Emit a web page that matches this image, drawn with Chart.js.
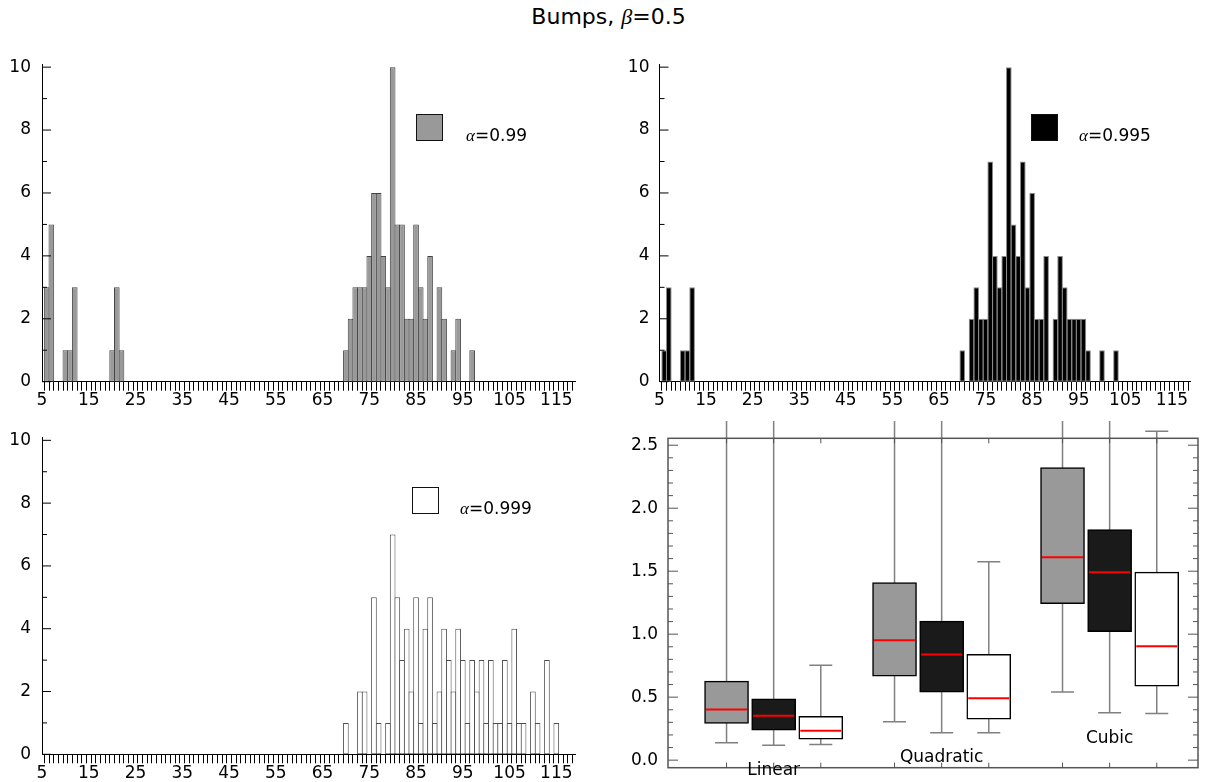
<!DOCTYPE html>
<html>
<head>
<meta charset="utf-8">
<script src="https://cdn.jsdelivr.net/npm/chart.js@4.4.1/dist/chart.umd.min.js"></script>
<style>
html, body { margin: 0; padding: 0; background: #fff; overflow: hidden; width: 1205px; height: 782px; }
canvas { position: absolute; }
.title { position: absolute; left: 6px; width: 1205px; top: 4px; text-align: center; font: 22px "DejaVu Sans", sans-serif; line-height: 26px; }
.title i, .legend i { font-family: "Liberation Serif", serif; }
.legend { position: absolute; font: 17px "DejaVu Sans", sans-serif; line-height: 17px; white-space: nowrap; }
.legend .sw { position: absolute; left: 0; top: 0; width: 25px; height: 25px; border: 1.5px solid #111; }
.legend .tx { position: absolute; top: 13px; }
</style>
</head>
<body>
<div class="title">Bumps, <i>β</i>=0.5</div>

<canvas id="h099" width="600" height="375" style="left:0px;top:40px"></canvas>
<canvas id="h0995" width="588" height="375" style="left:617px;top:40px"></canvas>
<canvas id="h0999" width="600" height="362" style="left:0px;top:420px"></canvas>
<canvas id="boxes" width="605" height="361" style="left:600px;top:421px"></canvas>

<div class="legend" style="left:416px;top:114px"><div class="sw" style="background:#999"></div><div class="tx" style="left:50px"><i>α</i>=0.99</div></div>
<div class="legend" style="left:1031px;top:114px"><div class="sw" style="background:#000"></div><div class="tx" style="left:48px"><i>α</i>=0.995</div></div>
<div class="legend" style="left:412px;top:487px"><div class="sw" style="background:#fff"></div><div class="tx" style="left:48px"><i>α</i>=0.999</div></div>

<script>
// histogramme: Klassenmitte (Breite 1) und Anzahl
const bins099 = [6, 7, 10, 11, 12, 20, 21, 22,
  70, 71, 72, 73, 74, 75, 76, 77, 78, 79, 80, 81, 82, 83, 84, 85, 86, 87, 88, 89, 90, 91, 92, 93, 94, 95, 96, 97];
const counts099 = [3, 5, 1, 1, 3, 1, 3, 1,
  1, 2, 3, 3, 3, 4, 6, 6, 4, 3, 10, 5, 5, 2, 2, 5, 3, 2, 4, 0, 3, 2, 0, 1, 2, 0, 0, 1];

const bins0995 = [6, 7, 10, 11, 12,
  70, 71, 72, 73, 74, 75, 76, 77, 78, 79, 80, 81, 82, 83, 84, 85, 86, 87, 88, 89,
  90, 91, 92, 93, 94, 95, 96, 97, 98, 99, 100, 101, 102, 103];
const counts0995 = [1, 3, 1, 1, 3,
  1, 0, 2, 3, 2, 2, 7, 4, 3, 4, 10, 5, 4, 7, 3, 6, 2, 2, 4, 0,
  2, 4, 3, 2, 2, 2, 2, 1, 0, 0, 1, 0, 0, 1];

const bins0999 = [70, 71, 72, 73, 74, 75, 76, 77, 78, 79, 80, 81, 82, 83, 84, 85, 86, 87, 88, 89,
  90, 91, 92, 93, 94, 95, 96, 97, 98, 99, 100, 101, 102, 103, 104, 105, 106, 107, 108, 109,
  110, 111, 112, 113, 114, 115];
const counts0999 = [1, 0, 0, 2, 2, 0, 5, 1, 0, 1, 7, 5, 3, 4, 2, 5, 1, 4, 5, 1,
  2, 4, 3, 2, 4, 3, 1, 3, 2, 3, 1, 3, 1, 1, 3, 1, 4, 1, 1, 0,
  2, 1, 0, 3, 0, 1];

const xTickLabels = [5, 15, 25, 35, 45, 55, 65, 75, 85, 95, 105, 115];
const yTickLabels = [0, 2, 4, 6, 8, 10];

// boxplot: Reihen = alpha 0.99 / 0.995 / 0.999, Spalten = Linear / Quadratic / Cubic
const groups = ['Linear', 'Quadratic', 'Cubic'];
const groupLabelY = [-0.08, 0.02, 0.175];
const whiskLo = [[0.138, 0.304, 0.540], [0.119, 0.217, 0.376], [0.124, 0.217, 0.370]];
const q1      = [[0.291, 0.667, 1.243], [0.238, 0.540, 1.019], [0.167, 0.325, 0.587]];
const median  = [[0.402, 0.952, 1.611], [0.352, 0.839, 1.492], [0.233, 0.492, 0.905]];
const q3      = [[0.627, 1.410, 2.323], [0.487, 1.103, 1.831], [0.347, 0.841, 1.492]];
const whiskHi = [[3.2, 3.4, 3.6], [3.0, 3.3, 3.5], [0.754, 1.574, 2.611]];
const boxTickLabels = [0.0, 0.5, 1.0, 1.5, 2.0, 2.5];

const boxFill = ['#999999', '#1a1a1a', '#ffffff'];

Chart.defaults.font.family = '"DejaVu Sans", sans-serif';
Chart.defaults.font.size = 16;
Chart.defaults.color = '#000';
Chart.defaults.animation = false;
Chart.defaults.responsive = false;
Chart.defaults.plugins.legend.display = false;
Chart.defaults.plugins.tooltip.enabled = false;

// feste Achsengroesse, ohne Randzuschlag fuer Beschriftungen
const fixSize = (w, h) => s => {
  if (w !== null) s.width = w;
  if (h !== null) s.height = h;
  s.paddingTop = 0; s.paddingBottom = 0; s.paddingLeft = 0; s.paddingRight = 0;
};

// Ticks nach innen zeichnen (y-Achse links, optional rechts)
const innerTicks = {
  id: 'innerTicks',
  afterDraw(chart, args, opts) {
    const ctx = chart.ctx, a = chart.chartArea, ys = chart.scales.y;
    ctx.save();
    ctx.strokeStyle = opts.color;
    ctx.lineWidth = opts.width;
    ys.ticks.forEach(t => {
      const py = ys.getPixelForValue(t.value);
      const len = opts.isMajor(t.value) ? opts.major : opts.minor;
      ctx.beginPath();
      ctx.moveTo(a.left, py);
      ctx.lineTo(a.left + len, py);
      if (opts.mirror) {
        ctx.moveTo(a.right, py);
        ctx.lineTo(a.right - len, py);
      }
      ctx.stroke();
    });
    ctx.restore();
  }
};

function histogram(id, bins, counts, fill, edge, box) {
  const pts = [];
  bins.forEach((b, i) => { if (counts[i] > 0) pts.push({ x: b, y: counts[i] }); });
  return new Chart(document.getElementById(id), {
    type: 'bar',
    data: {
      datasets: [{
        data: pts,
        backgroundColor: fill,
        borderColor: edge,
        borderWidth: 1,
        borderSkipped: false,
        barPercentage: 1.21,   // Nachbarbalken teilen sich die Randlinie
        categoryPercentage: 1
      }]
    },
    options: {
      layout: { padding: box.pad, autoPadding: false },
      scales: {
        x: {
          type: 'linear', offset: false, min: 5, max: 119,
          afterFit: fixSize(null, box.xh),
          ticks: {
            stepSize: 1, autoSkip: false, maxRotation: 0, minRotation: 0, padding: 0,
            font: { size: 17 },
            callback: v => xTickLabels.includes(v) ? String(v) : ''
          },
          grid: { display: true, drawOnChartArea: false, drawTicks: true, tickLength: 9, color: '#000', lineWidth: 1 },
          border: { display: true, color: '#000', width: 1 }
        },
        y: {
          min: 0, max: 10.1,
          afterFit: fixSize(box.yw, null),
          ticks: {
            stepSize: 1, includeBounds: false, autoSkip: false, padding: box.ypad,
            font: { size: 17 },
            callback: v => yTickLabels.includes(v) ? String(v) : ''
          },
          grid: { display: false, drawTicks: false },
          border: { display: true, color: '#000', width: 1 }
        }
      },
      plugins: {
        innerTicks: { color: '#000', width: 1, major: 9, minor: 5, mirror: false, isMajor: v => yTickLabels.includes(v) }
      }
    },
    plugins: [innerTicks]
  });
}

histogram('h099', bins099, counts099, '#999999', '#444444',
  { pad: { left: 0, right: 25, top: 24, bottom: 0 }, xh: 33.3, yw: 42, ypad: 11 });
histogram('h0995', bins0995, counts0995, '#000000', '#8a8a8a',
  { pad: { left: 0, right: 14.5, top: 24, bottom: 0 }, xh: 33.3, yw: 42.5, ypad: 10 });
histogram('h0999', bins0999, counts0999, '#ffffff', '#4d4d4d',
  { pad: { left: 0, right: 25, top: 17.2, bottom: 0 }, xh: 27.7, yw: 42, ypad: 11 });

// Boxplot
const xMin = 0.371, xMax = 3.526, boxStep = 0.2805;
const boxPos = (g, s) => g + 1 + (s - 1) * boxStep;

const boxPlot = {
  id: 'boxPlot',
  beforeDatasetsDraw(chart) {
    const { ctx, scales: { x, y } } = chart;
    ctx.save();
    ctx.strokeStyle = '#808080';
    ctx.lineWidth = 1.5;
    whiskLo.forEach((row, s) => row.forEach((lo, g) => {
      const px = x.getPixelForValue(boxPos(g, s));
      const pl = y.getPixelForValue(lo), ph = y.getPixelForValue(whiskHi[s][g]);
      ctx.beginPath();
      ctx.moveTo(px, pl); ctx.lineTo(px, ph);
      ctx.moveTo(px - 11.5, pl); ctx.lineTo(px + 11.5, pl);
      ctx.moveTo(px - 11.5, ph); ctx.lineTo(px + 11.5, ph);
      ctx.stroke();
    }));
    ctx.restore();
  },
  afterDatasetsDraw(chart) {
    const { ctx, scales: { x, y } } = chart;
    ctx.save();
    ctx.strokeStyle = '#ff0000';
    ctx.lineWidth = 2;
    median.forEach((row, s) => row.forEach((m, g) => {
      const px = x.getPixelForValue(boxPos(g, s));
      const py = y.getPixelForValue(m);
      ctx.beginPath();
      ctx.moveTo(px - 20.5, py); ctx.lineTo(px + 20.5, py);
      ctx.stroke();
    }));
    ctx.restore();
  },
  afterDraw(chart) {
    const { ctx, chartArea: a, scales: { x, y } } = chart;
    ctx.save();
    ctx.strokeStyle = '#555';
    ctx.lineWidth = 1.5;
    ctx.strokeRect(a.left, a.top, a.right - a.left, a.bottom - a.top);
    ctx.lineWidth = 1;
    whiskLo.forEach((row, s) => row.forEach((lo, g) => {
      const px = x.getPixelForValue(boxPos(g, s));
      ctx.beginPath();
      ctx.moveTo(px, a.top); ctx.lineTo(px, a.top + 5);
      ctx.moveTo(px, a.bottom); ctx.lineTo(px, a.bottom - 5);
      ctx.stroke();
    }));
    ctx.fillStyle = '#000';
    ctx.font = '17px "DejaVu Sans", sans-serif';
    ctx.textAlign = 'center';
    ctx.textBaseline = 'middle';
    groups.forEach((name, g) => {
      ctx.fillText(name, x.getPixelForValue(boxPos(g, 1)), y.getPixelForValue(groupLabelY[g]));
    });
    ctx.restore();
  }
};

new Chart(document.getElementById('boxes'), {
  type: 'bar',
  data: {
    datasets: q1.map((row, s) => ({
      data: row.map((lo, g) => ({ x: boxPos(g, s), y: [lo, q3[s][g]] })),
      backgroundColor: boxFill[s],
      borderColor: '#000',
      borderWidth: 1.5,
      borderSkipped: false,
      barThickness: 44,
      grouped: false
    }))
  },
  options: {
    layout: { padding: { left: 0, right: 7, top: 17.3, bottom: 14.3 }, autoPadding: false },
    scales: {
      x: { type: 'linear', offset: false, min: xMin, max: xMax, display: false },
      y: {
        min: -0.06, max: 2.555,
        afterFit: fixSize(68, null),
        ticks: {
          stepSize: 0.1, includeBounds: false, autoSkip: false, padding: 10,
          font: { size: 17 },
          callback: v => boxTickLabels.some(b => Math.abs(b - v) < 1e-6) ? v.toFixed(1) : ''
        },
        grid: { display: false, drawTicks: false },
        border: { display: false }
      }
    },
    plugins: {
      innerTicks: {
        color: '#555', width: 1, major: 10, minor: 5, mirror: true,
        isMajor: v => boxTickLabels.some(b => Math.abs(b - v) < 1e-6)
      }
    }
  },
  plugins: [boxPlot, innerTicks]
});
</script>
</body>
</html>
